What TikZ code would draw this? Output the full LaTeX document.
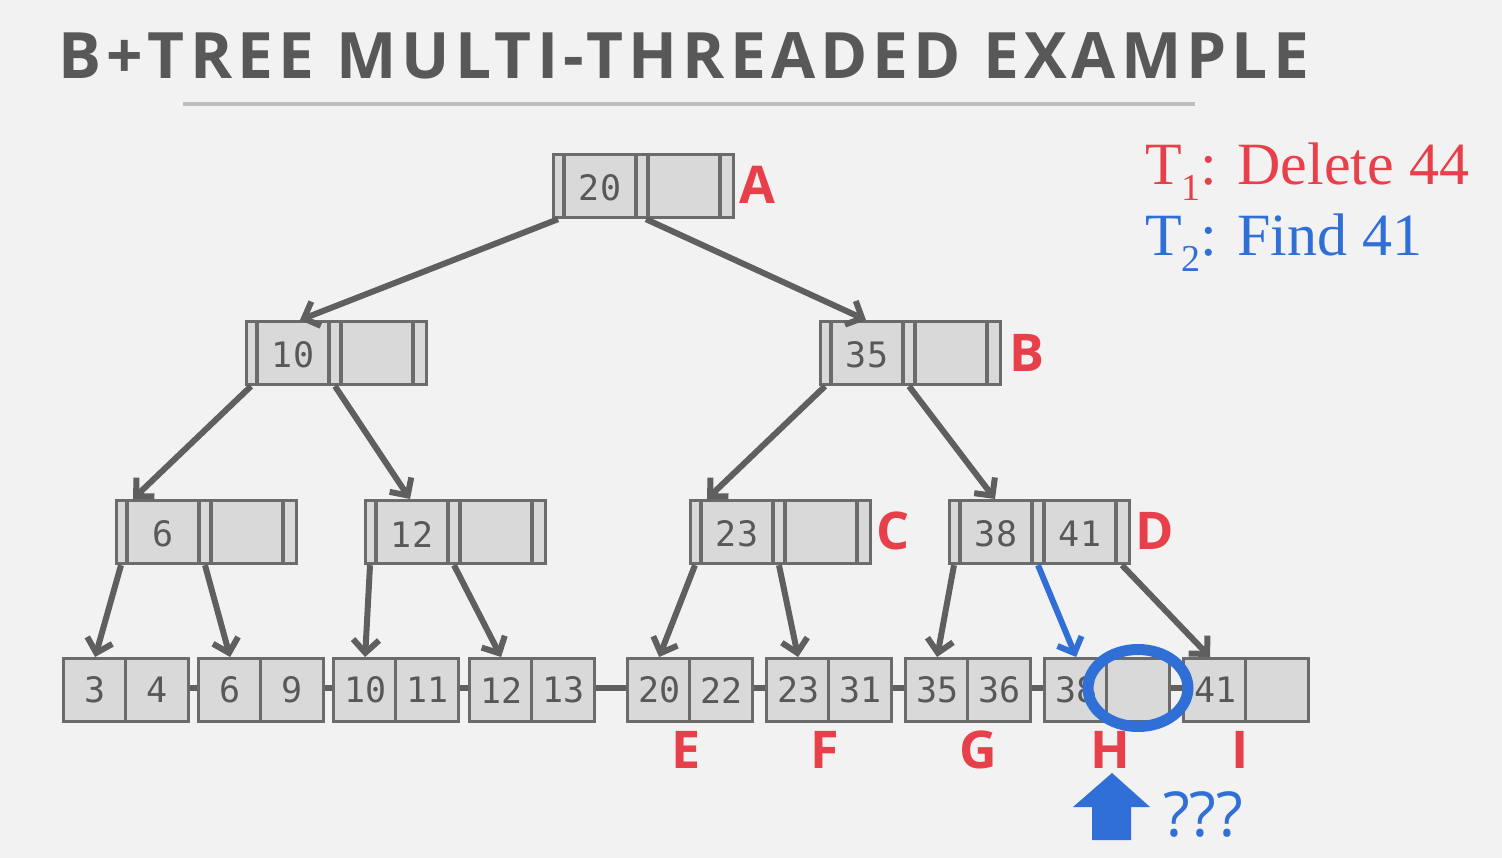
\documentclass[tikz,border=0pt]{standalone}
\usepackage{fontspec}
\setmainfont{Liberation Serif}
\newfontfamily\titlefont{Open Sans}[LetterSpace=8]
\newfontfamily\labfont{Open Sans}
\newfontfamily\keyfont{DejaVu Sans Mono}
\usetikzlibrary{arrows.meta,shapes.geometric}
\definecolor{bg}{HTML}{F2F2F2}
\definecolor{boxfill}{HTML}{D9D9D9}
\definecolor{boxdraw}{HTML}{6B6B6B}
\definecolor{linegray}{HTML}{5F5F5F}
\definecolor{textgray}{HTML}{585858}
\definecolor{myred}{HTML}{E8404A}
\definecolor{myblue}{HTML}{2F6FD6}
\tikzset{
  boxline/.style={draw=boxdraw, line width=3.2pt},
  inbox/.style={rectangle, fill=boxfill, boxline, minimum width=180pt, minimum height=63pt, inner sep=0pt},
  leafcell/.style={rectangle, fill=boxfill, boxline, minimum width=63pt, minimum height=63pt, inner sep=0pt,
     font=\keyfont\fontsize{35}{35}\selectfont, text=textgray},
  keytext/.style={inner sep=0pt, font=\keyfont\fontsize{35}{35}\selectfont, text=textgray},
  conn/.style={draw=linegray, line width=6pt, -{Straight Barb[length=13pt,width=26pt]}},
  bconn/.style={conn, draw=myblue},
  link/.style={draw=linegray, line width=6.5pt},
  lab/.style={inner sep=0pt, font=\labfont\bfseries\fontsize{52}{52}\selectfont, text=myred},
}
\newcommand\innode[5]{%
  \node[inbox, anchor=north west] (#1) at (#2,#3) {};
  \foreach \o in {12,84,96,168}{\draw[boxline] ([xshift=\o pt]#1.north west) -- ([xshift=\o pt]#1.south west);}
  \node[keytext] (#1k1) at ([xshift=48pt,yshift=-2pt]#1.west) {#4};
  \node[keytext] (#1k2) at ([xshift=132pt,yshift=-2pt]#1.west) {#5};
  \coordinate (#1p0) at ([xshift=6pt]#1.south west);
  \coordinate (#1p1) at ([xshift=90pt]#1.south west);
  \coordinate (#1p2) at ([xshift=174pt]#1.south west);
}
\newcommand\leafnode[5]{%
  \node[leafcell, anchor=north west] (#1a) at (#2,#3) {\raisebox{-2pt}{#4}};
  \node[leafcell, anchor=north west] (#1b) at (#2+62,#3) {\raisebox{-2pt}{#5}};
}
\begin{document}
\begin{tikzpicture}[x=1pt,y=-1pt]
\fill[bg] (0,0) rectangle (1502,858);
\useasboundingbox (0,0) rectangle (1502,858);

% title
\node[anchor=base west, inner sep=0pt, text=textgray, font=\titlefont\bfseries\fontsize{64}{64}\selectfont] (title) at (58,79) {B+TREE MULTI-THREADED EXAMPLE};
\coordinate (ulA) at (183,104);
\coordinate (ulB) at (1195,104);
\draw[draw=black!25, line width=4.5pt] (ulA) -- (ulB);

% transactions
\node[anchor=base west, inner sep=0pt, text=myred, font=\fontsize{60}{60}\selectfont] (t1) at (1145,185)
  {T\raisebox{-16pt}{\fontsize{38}{38}\selectfont 1}: Delete 44};
\node[anchor=base west, inner sep=0pt, text=myblue, font=\fontsize{60}{60}\selectfont] (t2) at (1145,256)
  {T\raisebox{-16pt}{\fontsize{38}{38}\selectfont 2}: Find 41};

% leaf links (under boxes)
\coordinate (lk1) at (62,688);
\coordinate (lk2) at (1307,688);
\draw[link] (lk1) -- (lk2);

% leaves
\leafnode{L1}{62}{657}{3}{4}
\leafnode{L2}{197}{657}{6}{9}
\leafnode{L3}{332}{657}{10}{11}
\leafnode{L4}{468}{657}{12}{13}
\leafnode{E}{626}{657}{20}{22}
\leafnode{F}{765}{657}{23}{31}
\leafnode{G}{904}{657}{35}{36}
\leafnode{H}{1043}{657}{38}{}
\leafnode{I}{1182}{657}{41}{}

% inner nodes
\innode{A}{552}{153}{20}{}
\innode{N10}{245}{320}{10}{}
\innode{B}{819}{320}{35}{}
\innode{N6}{115}{499}{6}{}
\innode{N12}{364}{499}{12}{}
\innode{C}{689}{499}{23}{}
\innode{D}{948}{499}{38}{41}

% connectors
\draw[conn] (Ap0) -- ([xshift=55pt]N10.north west);
\draw[conn] ([xshift=4pt]Ap1) -- ([xshift=47pt]B.north west);
\draw[conn] (N10p0) -- ([xshift=18pt]N6.north west);
\draw[conn] (N10p1) -- ([xshift=46pt]N12.north west);
\draw[conn] (Bp0) -- ([xshift=18pt]C.north west);
\draw[conn] (Bp1) -- ([xshift=47pt]D.north west);
\draw[conn] (N6p0) -- (L1a.north);
\draw[conn] (N6p1) -- (L2a.north);
\draw[conn] (N12p0) -- (L3a.north);
\draw[conn] (N12p1) -- (L4a.north);
\draw[conn] (Cp0) -- (Ea.north);
\draw[conn] (Cp1) -- (Fa.north);
\draw[conn] (Dp0) -- (Ga.north);
\draw[bconn] (Dp1) -- (Ha.north);
\draw[conn] (Dp2) -- ([xshift=28pt]Ia.north west);

% labels
\node[lab] (labA) at (757,185) {A};
\node[lab] (labB) at (1027,353) {B};
\node[lab] (labC) at (893,531) {C};
\node[lab] (labD) at (1155,531) {D};
\node[lab] (labE) at (686,750) {E};
\node[lab] (labF) at (825,750) {F};
\node[lab] (labG) at (978,750) {G};
\node[lab] (labH) at (1110,750) {H};
\node[lab] (labI) at (1240,750) {I};

% ring and pointer
\node[ellipse, draw=myblue, line width=11pt, minimum width=100pt, minimum height=77pt, inner sep=0pt] (ring) at (1138,688) {};
\fill[myblue] (1112,773) -- (1150,807) -- (1131,807) -- (1131,840) -- (1092,840) -- (1092,807) -- (1073,807) -- cycle;
\node[anchor=west, inner sep=0pt, text=myblue, font=\labfont\fontsize{62}{62}\selectfont] (qq) at (1163,814) {???};
\end{tikzpicture}
\end{document}
